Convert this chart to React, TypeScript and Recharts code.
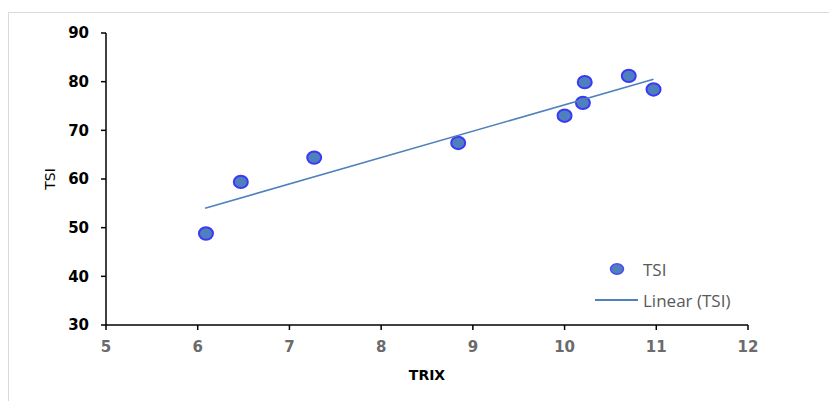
import { ScatterChart, Scatter, XAxis, YAxis } from "recharts";

// values
const trixValues = [6.09, 6.47, 7.27, 8.84, 10.0, 10.2, 10.22, 10.7, 10.97];
const tsiValues = [48.8, 59.4, 64.4, 67.4, 73.0, 75.65, 79.9, 81.2, 78.4];
// Linear (TSI) trendline end points
const trendTrix = [6.08, 10.97];
const trendTsi = [54.0, 80.5];
const xTicks = [5, 6, 7, 8, 9, 10, 11, 12];
const yTicks = [30, 40, 50, 60, 70, 80, 90];
const legendNames = ["TSI", "Linear (TSI)"];

const points = trixValues.map((x, i) => ({ x, y: tsiValues[i] }));
const trend = trendTrix.map((x, i) => ({ x, y: trendTsi[i] }));

const tickFont = "'DejaVu Sans', Verdana, sans-serif";
const legendFont = "'Open Sans', 'Noto Sans', sans-serif";

const Dot = (props: any) => {
  const { cx, cy } = props;
  if (cx == null || cy == null) return <g />;
  return (
    <ellipse
      cx={cx}
      cy={cy}
      rx={7}
      ry={6.2}
      fill="#4f7fbf"
      stroke="#3a3af5"
      strokeWidth={2}
    />
  );
};

const NoDot = () => <g />;

const YLabel = (props: any) => {
  const vb = props.viewBox || { y: 33, height: 292 };
  const cy = vb.y + vb.height / 2;
  return (
    <text
      x={55}
      y={cy}
      transform={`rotate(-90, 55, ${cy})`}
      textAnchor="middle"
      fontFamily={tickFont}
      fontSize={14}
      fill="#000"
    >
      TSI
    </text>
  );
};

// legend drawn outside the chart so it takes no room from the plot
const LegendBox = () => (
  <div
    style={{
      position: "absolute",
      left: 595,
      top: 258,
      fontFamily: legendFont,
      fontSize: 17,
      color: "#595959",
    }}
  >
    <div style={{ display: "flex", alignItems: "center", height: 22 }}>
      <svg width={48} height={22}>
        <ellipse cx={22} cy={11} rx={6.5} ry={5.2} fill="#4f7fbf" stroke="#4a4af5" strokeWidth={1.5} />
      </svg>
      <span>{legendNames[0]}</span>
    </div>
    <div style={{ display: "flex", alignItems: "center", height: 22, marginTop: 9 }}>
      <svg width={48} height={22}>
        <line x1={0} y1={11} x2={43} y2={11} stroke="#4f81bd" strokeWidth={2} />
      </svg>
      <span>{legendNames[1]}</span>
    </div>
  </div>
);

export default function App() {
  return (
    <div
      style={{
        position: "absolute",
        left: 0,
        top: 0,
        width: 829,
        height: 401,
        overflow: "hidden",
        background: "#fff",
      }}
    >
      <div
        style={{
          position: "absolute",
          left: 8,
          top: 12,
          width: 900,
          height: 500,
          border: "1px solid #d9d9d9",
        }}
      />
      <div style={{ position: "absolute", left: 0, top: 0 }}>
        <ScatterChart
          width={829}
          height={401}
          margin={{ top: 33, right: 81, bottom: 26, left: 46 }}
        >
          <XAxis
            type="number"
            dataKey="x"
            domain={[5, 12]}
            ticks={xTicks}
            interval={0}
            height={50}
            axisLine={{ stroke: "#000", strokeWidth: 1.5 }}
            tickLine={{ stroke: "#000", strokeWidth: 1.5 }}
            tickSize={5}
            tickMargin={11}
            tick={{ fill: "#6b6b6b", fontSize: 15, fontWeight: "bold", fontFamily: tickFont }}
            label={{
              value: "TRIX",
              position: "insideBottom",
              offset: -5,
              fill: "#000",
              fontSize: 14,
              fontWeight: "bold",
              fontFamily: tickFont,
            }}
          />
          <YAxis
            type="number"
            dataKey="y"
            domain={[30, 90]}
            ticks={yTicks}
            interval={0}
            width={60}
            axisLine={{ stroke: "#000", strokeWidth: 1.5 }}
            tickLine={{ stroke: "#000", strokeWidth: 1.5 }}
            tickSize={5}
            tickMargin={12}
            tick={{ fill: "#000", fontSize: 15, fontWeight: "bold", fontFamily: tickFont }}
            label={<YLabel />}
          />
          <Scatter
            name="TSI"
            data={points}
            shape={<Dot />}
            isAnimationActive={false}
          />
          <Scatter
            name="Linear (TSI)"
            data={trend}
            line={{ stroke: "#4f81bd", strokeWidth: 1.6 }}
            shape={<NoDot />}
            isAnimationActive={false}
          />
        </ScatterChart>
      </div>
      <LegendBox />
    </div>
  );
}
